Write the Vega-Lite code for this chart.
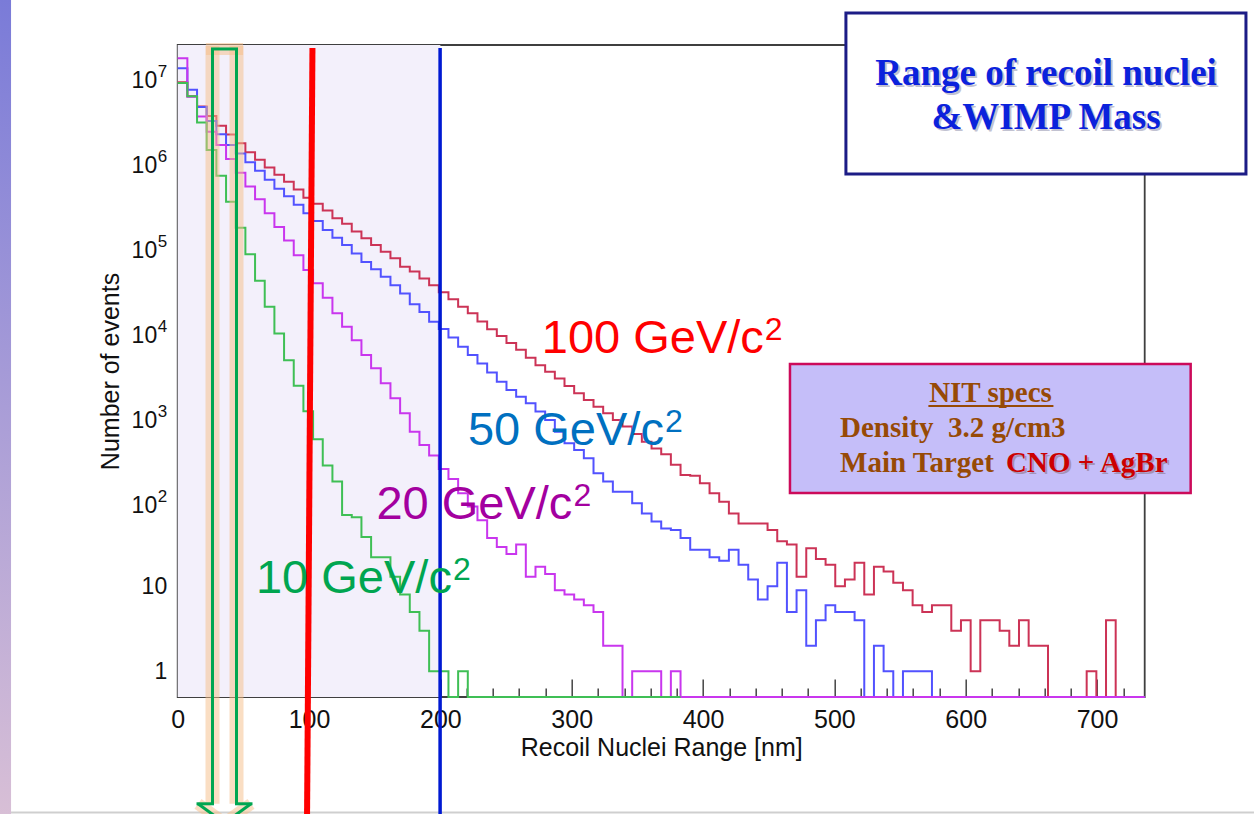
{
  "$schema": "https://vega.github.io/schema/vega-lite/v6.json",
  "width": 967,
  "height": 652,
  "autosize": {"type": "none"},
  "padding": {"left": 177.7, "top": 45, "right": 109.3, "bottom": 117},
  "background": "#ffffff",
  "config": {
    "view": {"stroke": "#3f3f3f", "strokeWidth": 1.8},
    "font": "Liberation Sans",
    "axis": {"grid": false, "domain": false, "tickColor": "#444444", "tickWidth": 1.5, "labelColor": "#111111", "titleColor": "#111111", "titleFontWeight": "normal", "labelFont": "Liberation Sans", "titleFont": "Liberation Sans", "labelFlush": false, "labelOverlap": false}
  },
  "datasets": {
    "h100": [
      {"nm": 0, "n": 8600000}, {"nm": 7.36, "n": 5900000}, {"nm": 14.73, "n": 4450000}, {"nm": 22.09, "n": 3450000}, {"nm": 29.45, "n": 2650000},
      {"nm": 36.82, "n": 2080000}, {"nm": 44.18, "n": 1650000}, {"nm": 51.54, "n": 1290000}, {"nm": 58.9, "n": 1050000}, {"nm": 66.27, "n": 850000},
      {"nm": 73.63, "n": 700000}, {"nm": 80.99, "n": 580000}, {"nm": 88.36, "n": 470000}, {"nm": 95.72, "n": 375000}, {"nm": 103.08, "n": 320000},
      {"nm": 110.45, "n": 265000}, {"nm": 117.81, "n": 215000}, {"nm": 125.17, "n": 185000}, {"nm": 132.53, "n": 150000}, {"nm": 139.9, "n": 125000},
      {"nm": 147.26, "n": 104000}, {"nm": 154.62, "n": 87000}, {"nm": 161.99, "n": 73000}, {"nm": 169.35, "n": 58000}, {"nm": 176.71, "n": 51000},
      {"nm": 184.08, "n": 42000}, {"nm": 191.44, "n": 35000}, {"nm": 198.8, "n": 29000}, {"nm": 206.16, "n": 24000}, {"nm": 213.53, "n": 19600},
      {"nm": 220.89, "n": 16400}, {"nm": 228.25, "n": 13100}, {"nm": 235.62, "n": 10600}, {"nm": 242.98, "n": 8850}, {"nm": 250.34, "n": 7300},
      {"nm": 257.71, "n": 6100}, {"nm": 265.07, "n": 4900}, {"nm": 272.43, "n": 4000}, {"nm": 279.79, "n": 3370}, {"nm": 287.16, "n": 2800},
      {"nm": 294.52, "n": 2280}, {"nm": 301.88, "n": 1870}, {"nm": 309.25, "n": 1560}, {"nm": 316.61, "n": 1300}, {"nm": 323.97, "n": 1090},
      {"nm": 331.34, "n": 910}, {"nm": 338.7, "n": 760}, {"nm": 346.06, "n": 620}, {"nm": 353.42, "n": 505}, {"nm": 360.79, "n": 420},
      {"nm": 368.15, "n": 360}, {"nm": 375.51, "n": 270}, {"nm": 382.88, "n": 205}, {"nm": 390.24, "n": 200}, {"nm": 397.6, "n": 163},
      {"nm": 404.97, "n": 125}, {"nm": 412.33, "n": 99}, {"nm": 419.69, "n": 72}, {"nm": 427.05, "n": 55}, {"nm": 434.42, "n": 55},
      {"nm": 441.78, "n": 55}, {"nm": 449.14, "n": 46}, {"nm": 456.51, "n": 34}, {"nm": 463.87, "n": 31}, {"nm": 471.23, "n": 13},
      {"nm": 478.6, "n": 28}, {"nm": 485.96, "n": 21}, {"nm": 493.32, "n": 18}, {"nm": 500.68, "n": 10}, {"nm": 508.05, "n": 12},
      {"nm": 515.41, "n": 19}, {"nm": 522.77, "n": 8}, {"nm": 530.14, "n": 17}, {"nm": 537.5, "n": 15}, {"nm": 544.86, "n": 11},
      {"nm": 552.23, "n": 9}, {"nm": 559.59, "n": 6}, {"nm": 566.95, "n": 5}, {"nm": 574.31, "n": 6}, {"nm": 581.68, "n": 6},
      {"nm": 589.04, "n": 3}, {"nm": 596.4, "n": 4}, {"nm": 603.77, "n": 1}, {"nm": 611.13, "n": 4}, {"nm": 618.49, "n": 4},
      {"nm": 625.86, "n": 3}, {"nm": 633.22, "n": 2}, {"nm": 640.58, "n": 4}, {"nm": 647.94, "n": 2}, {"nm": 655.31, "n": 2},
      {"nm": 662.67, "n": null}, {"nm": 670.03, "n": null}, {"nm": 677.4, "n": null}, {"nm": 684.76, "n": null}, {"nm": 692.12, "n": 1},
      {"nm": 699.49, "n": null}, {"nm": 706.85, "n": 4}, {"nm": 714.21, "n": null}, {"nm": 721.57, "n": null}, {"nm": 728.94, "n": null},
      {"nm": 736.3, "n": null}
    ],
    "h50": [
      {"nm": 0, "n": 12600000}, {"nm": 7.36, "n": 7000000}, {"nm": 14.73, "n": 4400000}, {"nm": 22.09, "n": 3000000}, {"nm": 29.45, "n": 2100000},
      {"nm": 36.82, "n": 1570000}, {"nm": 44.18, "n": 1250000}, {"nm": 51.54, "n": 980000}, {"nm": 58.9, "n": 780000}, {"nm": 66.27, "n": 610000},
      {"nm": 73.63, "n": 480000}, {"nm": 80.99, "n": 390000}, {"nm": 88.36, "n": 310000}, {"nm": 95.72, "n": 247000}, {"nm": 103.08, "n": 200000},
      {"nm": 110.45, "n": 157000}, {"nm": 117.81, "n": 127000}, {"nm": 125.17, "n": 104000}, {"nm": 132.53, "n": 83000}, {"nm": 139.9, "n": 66000},
      {"nm": 147.26, "n": 54000}, {"nm": 154.62, "n": 44000}, {"nm": 161.99, "n": 35000}, {"nm": 169.35, "n": 28000}, {"nm": 176.71, "n": 21000},
      {"nm": 184.08, "n": 17000}, {"nm": 191.44, "n": 13000}, {"nm": 198.8, "n": 10700}, {"nm": 206.16, "n": 8500}, {"nm": 213.53, "n": 6600},
      {"nm": 220.89, "n": 5300}, {"nm": 228.25, "n": 4200}, {"nm": 235.62, "n": 3300}, {"nm": 242.98, "n": 2570}, {"nm": 250.34, "n": 2050},
      {"nm": 257.71, "n": 1710}, {"nm": 265.07, "n": 1430}, {"nm": 272.43, "n": 1140}, {"nm": 279.79, "n": 910}, {"nm": 287.16, "n": 662},
      {"nm": 294.52, "n": 483}, {"nm": 301.88, "n": 403}, {"nm": 309.25, "n": 322}, {"nm": 316.61, "n": 214}, {"nm": 323.97, "n": 171},
      {"nm": 331.34, "n": 130}, {"nm": 338.7, "n": 130}, {"nm": 346.06, "n": 95}, {"nm": 353.42, "n": 72}, {"nm": 360.79, "n": 58},
      {"nm": 368.15, "n": 48}, {"nm": 375.51, "n": 46}, {"nm": 382.88, "n": 37}, {"nm": 390.24, "n": 27}, {"nm": 397.6, "n": 27},
      {"nm": 404.97, "n": 22}, {"nm": 412.33, "n": 20}, {"nm": 419.69, "n": 27}, {"nm": 427.05, "n": 18}, {"nm": 434.42, "n": 12},
      {"nm": 441.78, "n": 7}, {"nm": 449.14, "n": 10}, {"nm": 456.51, "n": 19}, {"nm": 463.87, "n": 5}, {"nm": 471.23, "n": 9},
      {"nm": 478.6, "n": 2}, {"nm": 485.96, "n": 4}, {"nm": 493.32, "n": 6}, {"nm": 500.68, "n": 5}, {"nm": 508.05, "n": 5},
      {"nm": 515.41, "n": 4}, {"nm": 522.77, "n": null}, {"nm": 530.14, "n": 2}, {"nm": 537.5, "n": 1}, {"nm": 544.86, "n": null},
      {"nm": 552.23, "n": 1}, {"nm": 559.59, "n": 1}, {"nm": 566.95, "n": 1}, {"nm": 574.31, "n": null}, {"nm": 581.68, "n": null},
      {"nm": 589.04, "n": null}, {"nm": 596.4, "n": null}, {"nm": 603.77, "n": null}, {"nm": 611.13, "n": null}, {"nm": 618.49, "n": null},
      {"nm": 625.86, "n": null}, {"nm": 633.22, "n": null}, {"nm": 640.58, "n": null}, {"nm": 647.94, "n": null}, {"nm": 655.31, "n": null},
      {"nm": 662.67, "n": null}, {"nm": 670.03, "n": null}, {"nm": 677.4, "n": null}, {"nm": 684.76, "n": null}, {"nm": 692.12, "n": null},
      {"nm": 699.49, "n": null}, {"nm": 706.85, "n": null}, {"nm": 714.21, "n": null}, {"nm": 721.57, "n": null}, {"nm": 728.94, "n": null},
      {"nm": 736.3, "n": null}
    ],
    "h20": [
      {"nm": 0, "n": 16500000}, {"nm": 7.36, "n": 5800000}, {"nm": 14.73, "n": 3400000}, {"nm": 22.09, "n": 2250000}, {"nm": 29.45, "n": 1570000},
      {"nm": 36.82, "n": 1070000}, {"nm": 44.18, "n": 740000}, {"nm": 51.54, "n": 510000}, {"nm": 58.9, "n": 360000}, {"nm": 66.27, "n": 247000},
      {"nm": 73.63, "n": 170000}, {"nm": 80.99, "n": 118000}, {"nm": 88.36, "n": 79000}, {"nm": 95.72, "n": 53000}, {"nm": 103.08, "n": 37000},
      {"nm": 110.45, "n": 25000}, {"nm": 117.81, "n": 16400}, {"nm": 125.17, "n": 11400}, {"nm": 132.53, "n": 7900}, {"nm": 139.9, "n": 5300},
      {"nm": 147.26, "n": 3700}, {"nm": 154.62, "n": 2460}, {"nm": 161.99, "n": 1640}, {"nm": 169.35, "n": 1090}, {"nm": 176.71, "n": 662},
      {"nm": 184.08, "n": 461}, {"nm": 191.44, "n": 348}, {"nm": 198.8, "n": 240}, {"nm": 206.16, "n": 183}, {"nm": 213.53, "n": 125},
      {"nm": 220.89, "n": 87}, {"nm": 228.25, "n": 60}, {"nm": 235.62, "n": 37}, {"nm": 242.98, "n": 29}, {"nm": 250.34, "n": 24},
      {"nm": 257.71, "n": 31}, {"nm": 265.07, "n": 13}, {"nm": 272.43, "n": 17}, {"nm": 279.79, "n": 14}, {"nm": 287.16, "n": 9},
      {"nm": 294.52, "n": 8}, {"nm": 301.88, "n": 7}, {"nm": 309.25, "n": 6}, {"nm": 316.61, "n": 5}, {"nm": 323.97, "n": 2},
      {"nm": 331.34, "n": 2}, {"nm": 338.7, "n": null}, {"nm": 346.06, "n": 1}, {"nm": 353.42, "n": 1}, {"nm": 360.79, "n": 1},
      {"nm": 368.15, "n": null}, {"nm": 375.51, "n": 1}, {"nm": 382.88, "n": null}, {"nm": 390.24, "n": null}, {"nm": 397.6, "n": null},
      {"nm": 404.97, "n": null}, {"nm": 412.33, "n": null}, {"nm": 419.69, "n": null}, {"nm": 427.05, "n": null}, {"nm": 434.42, "n": null},
      {"nm": 441.78, "n": null}, {"nm": 449.14, "n": null}, {"nm": 456.51, "n": null}, {"nm": 463.87, "n": null}, {"nm": 471.23, "n": null},
      {"nm": 478.6, "n": null}, {"nm": 485.96, "n": null}, {"nm": 493.32, "n": null}, {"nm": 500.68, "n": null}, {"nm": 508.05, "n": null},
      {"nm": 515.41, "n": null}, {"nm": 522.77, "n": null}, {"nm": 530.14, "n": null}, {"nm": 537.5, "n": null}, {"nm": 544.86, "n": null},
      {"nm": 552.23, "n": null}, {"nm": 559.59, "n": null}, {"nm": 566.95, "n": null}, {"nm": 574.31, "n": null}, {"nm": 581.68, "n": null},
      {"nm": 589.04, "n": null}, {"nm": 596.4, "n": null}, {"nm": 603.77, "n": null}, {"nm": 611.13, "n": null}, {"nm": 618.49, "n": null},
      {"nm": 625.86, "n": null}, {"nm": 633.22, "n": null}, {"nm": 640.58, "n": null}, {"nm": 647.94, "n": null}, {"nm": 655.31, "n": null},
      {"nm": 662.67, "n": null}, {"nm": 670.03, "n": null}, {"nm": 677.4, "n": null}, {"nm": 684.76, "n": null}, {"nm": 692.12, "n": null},
      {"nm": 699.49, "n": null}, {"nm": 706.85, "n": null}, {"nm": 714.21, "n": null}, {"nm": 721.57, "n": null}, {"nm": 728.94, "n": null},
      {"nm": 736.3, "n": null}
    ],
    "h10": [
      {"nm": 0, "n": 8400000}, {"nm": 7.36, "n": 5900000}, {"nm": 14.73, "n": 2880000}, {"nm": 22.09, "n": 1370000}, {"nm": 29.45, "n": 680000},
      {"nm": 36.82, "n": 338000}, {"nm": 44.18, "n": 167000}, {"nm": 51.54, "n": 81000}, {"nm": 58.9, "n": 39700}, {"nm": 66.27, "n": 19500},
      {"nm": 73.63, "n": 9500}, {"nm": 80.99, "n": 4600}, {"nm": 88.36, "n": 2300}, {"nm": 95.72, "n": 1150}, {"nm": 103.08, "n": 538},
      {"nm": 110.45, "n": 265}, {"nm": 117.81, "n": 171}, {"nm": 125.17, "n": 69}, {"nm": 132.53, "n": 65}, {"nm": 139.9, "n": 38},
      {"nm": 147.26, "n": 22}, {"nm": 154.62, "n": 22}, {"nm": 161.99, "n": 13}, {"nm": 169.35, "n": 8}, {"nm": 176.71, "n": 5},
      {"nm": 184.08, "n": 3}, {"nm": 191.44, "n": 1}, {"nm": 198.8, "n": 1}, {"nm": 206.16, "n": null}, {"nm": 213.53, "n": 1},
      {"nm": 220.89, "n": null}, {"nm": 228.25, "n": null}, {"nm": 235.62, "n": null}, {"nm": 242.98, "n": null}, {"nm": 250.34, "n": null},
      {"nm": 257.71, "n": null}, {"nm": 265.07, "n": null}, {"nm": 272.43, "n": null}, {"nm": 279.79, "n": null}, {"nm": 287.16, "n": null},
      {"nm": 294.52, "n": null}, {"nm": 301.88, "n": null}, {"nm": 309.25, "n": null}, {"nm": 316.61, "n": null}, {"nm": 323.97, "n": null},
      {"nm": 331.34, "n": null}, {"nm": 338.7, "n": null}, {"nm": 346.06, "n": null}, {"nm": 353.42, "n": null}, {"nm": 360.79, "n": null},
      {"nm": 368.15, "n": null}, {"nm": 375.51, "n": null}, {"nm": 382.88, "n": null}
    ]
  },
  "layer": [
    {
      "data": {"values": [{}]},
      "mark": {"type": "rect", "fill": {"gradient": "linear", "x1": 0, "y1": 0, "x2": 0, "y2": 1, "stops": [{"offset": 0, "color": "#7a7bd8"}, {"offset": 1, "color": "#d8bfd6"}]}},
      "encoding": {
        "x": {"datum": -135.3, "type": "quantitative", "scale": {"domain": [0, 736.3], "nice": false, "zero": false}, "axis": null},
        "x2": {"datum": -126.9},
        "y": {"datum": 81000000, "type": "quantitative", "scale": {"type": "log", "domain": [0.498, 23600000], "nice": false}, "axis": null},
        "y2": {"datum": 0.0205}
      }
    },
    {
      "data": {"values": [{}]},
      "mark": {"type": "rule", "stroke": "#cfcfcf", "strokeWidth": 2},
      "encoding": {
        "x": {"datum": -126.9, "scale": {"domain": [0, 736.3], "nice": false, "zero": false}, "axis": null},
        "x2": {"datum": 819.5},
        "y": {"datum": 0.02177, "scale": {"type": "log", "domain": [0.498, 23600000], "nice": false}, "axis": null}
      }
    },
    {
      "data": {"values": [{}]},
      "mark": {"type": "rect", "fill": "#f3f0fb"},
      "encoding": {
        "x": {
          "datum": 0, "type": "quantitative",
          "scale": {"domain": [0, 736.3], "nice": false, "zero": false},
          "axis": {"orient": "bottom", "values": [20, 40, 60, 80, 120, 140, 160, 180, 220, 240, 260, 280, 320, 340, 360, 380, 420, 440, 460, 480, 520, 540, 560, 580, 620, 640, 660, 680, 720], "tickSize": -9, "labels": false, "title": null}
        },
        "x2": {"datum": 200},
        "y": {
          "datum": 0.498, "type": "quantitative",
          "scale": {"type": "log", "domain": [0.498, 23600000], "nice": false},
          "axis": {"orient": "left", "values": [0.6, 0.7, 0.8, 0.9, 2, 3, 4, 5, 6, 7, 8, 9, 20, 30, 40, 50, 60, 70, 80, 90, 200, 300, 400, 500, 600, 700, 800, 900, 2000, 3000, 4000, 5000, 6000, 7000, 8000, 9000, 20000, 30000, 40000, 50000, 60000, 70000, 80000, 90000, 200000, 300000, 400000, 500000, 600000, 700000, 800000, 900000, 2000000, 3000000, 4000000, 5000000, 6000000, 7000000, 8000000, 9000000, 20000000], "tickSize": -14, "labels": false, "title": null}
        },
        "y2": {"datum": 23600000}
      }
    },
    {
      "data": {"name": "h100"},
      "mark": {"type": "line", "interpolate": "step-after", "color": "#cc3356", "strokeWidth": 2, "invalid": "show"},
      "encoding": {
        "x": {
          "field": "nm", "type": "quantitative",
          "scale": {"domain": [0, 736.3], "nice": false, "zero": false},
          "axis": {
            "orient": "bottom",
            "values": [0, 100, 200, 300, 400, 500, 600, 700],
            "tickSize": -18,
            "labelPadding": 28,
            "labelFontSize": 25,
            "title": "Recoil Nuclei Range [nm]",
            "titleFontSize": 25,
            "titlePadding": 3
          }
        },
        "y": {
          "field": "n", "type": "quantitative",
          "scale": {"type": "log", "domain": [0.498, 23600000], "nice": false},
          "axis": {
            "orient": "left",
            "values": [100, 1000, 10000, 100000, 1000000, 10000000],
            "labelExpr": "'10'",
            "tickSize": -28,
            "labelPadding": 49,
            "labelOffset": 4,
            "labelFontSize": 23,
            "title": "Number of events",
            "titleFontSize": 25,
            "titlePadding": 8
          }
        }
      }
    },
    {
      "data": {"name": "h50"},
      "mark": {"type": "line", "interpolate": "step-after", "color": "#5252ff", "strokeWidth": 2, "invalid": "show"},
      "encoding": {
        "x": {"field": "nm", "type": "quantitative", "scale": {"domain": [0, 736.3], "nice": false, "zero": false}, "axis": null},
        "y": {
          "field": "n", "type": "quantitative",
          "scale": {"type": "log", "domain": [0.498, 23600000], "nice": false},
          "axis": {"orient": "left", "values": [1, 10], "labelExpr": "datum.value === 1 ? '1' : '10'", "tickSize": -28, "labelPadding": 39, "labelFontSize": 23, "title": null}
        }
      }
    },
    {
      "data": {"name": "h20"},
      "mark": {"type": "line", "interpolate": "step-after", "color": "#c936ee", "strokeWidth": 2, "invalid": "show"},
      "encoding": {
        "x": {"field": "nm", "type": "quantitative", "scale": {"domain": [0, 736.3], "nice": false, "zero": false}, "axis": null},
        "y": {
          "field": "n", "type": "quantitative",
          "scale": {"type": "log", "domain": [0.498, 23600000], "nice": false},
          "axis": {"orient": "left", "values": [100, 1000, 10000, 100000, 1000000, 10000000], "labelExpr": "datum.value === 100 ? '2' : datum.value === 1000 ? '3' : datum.value === 10000 ? '4' : datum.value === 100000 ? '5' : datum.value === 1000000 ? '6' : '7'", "ticks": false, "labelPadding": 11, "labelOffset": -5, "labelFontSize": 17, "title": null}
        }
      }
    },
    {
      "data": {"name": "h10"},
      "mark": {"type": "line", "interpolate": "step-after", "color": "#3fbf55", "strokeWidth": 2, "invalid": "show"},
      "encoding": {
        "x": {"field": "nm", "type": "quantitative", "scale": {"domain": [0, 736.3], "nice": false, "zero": false}, "axis": null},
        "y": {"field": "n", "type": "quantitative", "scale": {"type": "log", "domain": [0.498, 23600000], "nice": false}, "axis": null}
      }
    },
    {
      "data": {"values": [{}]},
      "mark": {"type": "rule", "stroke": "#f5bd88", "strokeWidth": 14, "opacity": 0.5},
      "encoding": {
        "x": {"datum": 26.5, "scale": {"domain": [0, 736.3], "nice": false, "zero": false}, "axis": null},
        "y": {"datum": 23000000, "scale": {"type": "log", "domain": [0.498, 23600000], "nice": false}, "axis": null},
        "y2": {"datum": 0.02754}
      }
    },
    {
      "data": {"values": [{}]},
      "mark": {"type": "rule", "stroke": "#f5bd88", "strokeWidth": 14, "opacity": 0.5},
      "encoding": {
        "x": {"datum": 44.77, "scale": {"domain": [0, 736.3], "nice": false, "zero": false}, "axis": null},
        "y": {"datum": 23000000, "scale": {"type": "log", "domain": [0.498, 23600000], "nice": false}, "axis": null},
        "y2": {"datum": 0.02754}
      }
    },
    {
      "data": {"values": [{}]},
      "mark": {"type": "rule", "stroke": "#f5bd88", "strokeWidth": 12, "opacity": 0.5},
      "encoding": {
        "x": {"datum": 21.5, "scale": {"domain": [0, 736.3], "nice": false, "zero": false}, "axis": null},
        "x2": {"datum": 49.77},
        "y": {"datum": 21200000, "scale": {"type": "log", "domain": [0.498, 23600000], "nice": false}, "axis": null}
      }
    },
    {
      "data": {"values": [{}]},
      "mark": {"type": "rule", "stroke": "#f5bd88", "strokeWidth": 12, "opacity": 0.5},
      "encoding": {
        "x": {"datum": 15.46, "scale": {"domain": [0, 736.3], "nice": false, "zero": false}, "axis": null},
        "x2": {"datum": 35.64},
        "y": {"datum": 0.02754, "scale": {"type": "log", "domain": [0.498, 23600000], "nice": false}, "axis": null},
        "y2": {"datum": 0.01637}
      }
    },
    {
      "data": {"values": [{}]},
      "mark": {"type": "rule", "stroke": "#f5bd88", "strokeWidth": 12, "opacity": 0.5},
      "encoding": {
        "x": {"datum": 55.81, "scale": {"domain": [0, 736.3], "nice": false, "zero": false}, "axis": null},
        "x2": {"datum": 35.64},
        "y": {"datum": 0.02754, "scale": {"type": "log", "domain": [0.498, 23600000], "nice": false}, "axis": null},
        "y2": {"datum": 0.01637}
      }
    },
    {
      "data": {"values": [{}]},
      "mark": {"type": "rule", "stroke": "#00a651", "strokeWidth": 3},
      "encoding": {
        "x": {"datum": 26.5, "scale": {"domain": [0, 736.3], "nice": false, "zero": false}, "axis": null},
        "y": {"datum": 21200000, "scale": {"type": "log", "domain": [0.498, 23600000], "nice": false}, "axis": null},
        "y2": {"datum": 0.02754}
      }
    },
    {
      "data": {"values": [{}]},
      "mark": {"type": "rule", "stroke": "#00a651", "strokeWidth": 3},
      "encoding": {
        "x": {"datum": 44.77, "scale": {"domain": [0, 736.3], "nice": false, "zero": false}, "axis": null},
        "y": {"datum": 21200000, "scale": {"type": "log", "domain": [0.498, 23600000], "nice": false}, "axis": null},
        "y2": {"datum": 0.02754}
      }
    },
    {
      "data": {"values": [{}]},
      "mark": {"type": "rule", "stroke": "#00a651", "strokeWidth": 3, "strokeCap": "square"},
      "encoding": {
        "x": {"datum": 26.5, "scale": {"domain": [0, 736.3], "nice": false, "zero": false}, "axis": null},
        "x2": {"datum": 44.77},
        "y": {"datum": 21200000, "scale": {"type": "log", "domain": [0.498, 23600000], "nice": false}, "axis": null}
      }
    },
    {
      "data": {"values": [{}]},
      "mark": {"type": "rule", "stroke": "#00a651", "strokeWidth": 3, "strokeCap": "square"},
      "encoding": {
        "x": {"datum": 15.46, "scale": {"domain": [0, 736.3], "nice": false, "zero": false}, "axis": null},
        "x2": {"datum": 26.5},
        "y": {"datum": 0.02754, "scale": {"type": "log", "domain": [0.498, 23600000], "nice": false}, "axis": null}
      }
    },
    {
      "data": {"values": [{}]},
      "mark": {"type": "rule", "stroke": "#00a651", "strokeWidth": 3, "strokeCap": "square"},
      "encoding": {
        "x": {"datum": 44.77, "scale": {"domain": [0, 736.3], "nice": false, "zero": false}, "axis": null},
        "x2": {"datum": 55.81},
        "y": {"datum": 0.02754, "scale": {"type": "log", "domain": [0.498, 23600000], "nice": false}, "axis": null}
      }
    },
    {
      "data": {"values": [{}]},
      "mark": {"type": "rule", "stroke": "#00a651", "strokeWidth": 3},
      "encoding": {
        "x": {"datum": 15.46, "scale": {"domain": [0, 736.3], "nice": false, "zero": false}, "axis": null},
        "x2": {"datum": 35.64},
        "y": {"datum": 0.02754, "scale": {"type": "log", "domain": [0.498, 23600000], "nice": false}, "axis": null},
        "y2": {"datum": 0.01637}
      }
    },
    {
      "data": {"values": [{}]},
      "mark": {"type": "rule", "stroke": "#00a651", "strokeWidth": 3},
      "encoding": {
        "x": {"datum": 55.81, "scale": {"domain": [0, 736.3], "nice": false, "zero": false}, "axis": null},
        "x2": {"datum": 35.64},
        "y": {"datum": 0.02754, "scale": {"type": "log", "domain": [0.498, 23600000], "nice": false}, "axis": null},
        "y2": {"datum": 0.01637}
      }
    },
    {
      "data": {"values": [{}]},
      "mark": {"type": "rule", "stroke": "#ff0000", "strokeWidth": 6},
      "encoding": {
        "x": {"datum": 102.6, "scale": {"domain": [0, 736.3], "nice": false, "zero": false}, "axis": null},
        "x2": {"datum": 98.5},
        "y": {"datum": 21800000, "scale": {"type": "log", "domain": [0.498, 23600000], "nice": false}, "axis": null},
        "y2": {"datum": 0.0205}
      }
    },
    {
      "data": {"values": [{}]},
      "mark": {"type": "rule", "stroke": "#0019d2", "strokeWidth": 3.5},
      "encoding": {
        "x": {"datum": 199.8, "scale": {"domain": [0, 736.3], "nice": false, "zero": false}, "axis": null},
        "y": {"datum": 21800000, "scale": {"type": "log", "domain": [0.498, 23600000], "nice": false}, "axis": null},
        "y2": {"datum": 0.0205}
      }
    },
    {
      "data": {"values": [{}]},
      "mark": {"type": "text", "text": "100 GeV/c", "fontSize": 47, "color": "#ff0000", "align": "left", "baseline": "alphabetic"},
      "encoding": {
        "x": {"datum": 277.2, "scale": {"domain": [0, 736.3], "nice": false, "zero": false}, "axis": null},
        "y": {"datum": 5546, "scale": {"type": "log", "domain": [0.498, 23600000], "nice": false}, "axis": null}
      }
    },
    {
      "data": {"values": [{}]},
      "mark": {"type": "text", "text": "2", "fontSize": 32, "color": "#ff0000", "align": "left", "baseline": "alphabetic", "dx": 223, "dy": -13},
      "encoding": {
        "x": {"datum": 277.2, "scale": {"domain": [0, 736.3], "nice": false, "zero": false}, "axis": null},
        "y": {"datum": 5546, "scale": {"type": "log", "domain": [0.498, 23600000], "nice": false}, "axis": null}
      }
    },
    {
      "data": {"values": [{}]},
      "mark": {"type": "text", "text": "50 GeV/c", "fontSize": 47, "color": "#0070c0", "align": "left", "baseline": "alphabetic"},
      "encoding": {
        "x": {"datum": 221, "scale": {"domain": [0, 736.3], "nice": false, "zero": false}, "axis": null},
        "y": {"datum": 461, "scale": {"type": "log", "domain": [0.498, 23600000], "nice": false}, "axis": null}
      }
    },
    {
      "data": {"values": [{}]},
      "mark": {"type": "text", "text": "2", "fontSize": 32, "color": "#0070c0", "align": "left", "baseline": "alphabetic", "dx": 197, "dy": -13},
      "encoding": {
        "x": {"datum": 221, "scale": {"domain": [0, 736.3], "nice": false, "zero": false}, "axis": null},
        "y": {"datum": 461, "scale": {"type": "log", "domain": [0.498, 23600000], "nice": false}, "axis": null}
      }
    },
    {
      "data": {"values": [{}]},
      "mark": {"type": "text", "text": "20 GeV/c", "fontSize": 47, "color": "#a3009f", "align": "left", "baseline": "alphabetic"},
      "encoding": {
        "x": {"datum": 151.3, "scale": {"domain": [0, 736.3], "nice": false, "zero": false}, "axis": null},
        "y": {"datum": 61.6, "scale": {"type": "log", "domain": [0.498, 23600000], "nice": false}, "axis": null}
      }
    },
    {
      "data": {"values": [{}]},
      "mark": {"type": "text", "text": "2", "fontSize": 32, "color": "#a3009f", "align": "left", "baseline": "alphabetic", "dx": 197, "dy": -13},
      "encoding": {
        "x": {"datum": 151.3, "scale": {"domain": [0, 736.3], "nice": false, "zero": false}, "axis": null},
        "y": {"datum": 61.6, "scale": {"type": "log", "domain": [0.498, 23600000], "nice": false}, "axis": null}
      }
    },
    {
      "data": {"values": [{}]},
      "mark": {"type": "text", "text": "10 GeV/c", "fontSize": 47, "color": "#00a550", "align": "left", "baseline": "alphabetic"},
      "encoding": {
        "x": {"datum": 59.6, "scale": {"domain": [0, 736.3], "nice": false, "zero": false}, "axis": null},
        "y": {"datum": 8.28, "scale": {"type": "log", "domain": [0.498, 23600000], "nice": false}, "axis": null}
      }
    },
    {
      "data": {"values": [{}]},
      "mark": {"type": "text", "text": "2", "fontSize": 32, "color": "#00a550", "align": "left", "baseline": "alphabetic", "dx": 197, "dy": -13},
      "encoding": {
        "x": {"datum": 59.6, "scale": {"domain": [0, 736.3], "nice": false, "zero": false}, "axis": null},
        "y": {"datum": 8.28, "scale": {"type": "log", "domain": [0.498, 23600000], "nice": false}, "axis": null}
      }
    },
    {
      "data": {"values": [{}]},
      "mark": {"type": "rect", "fill": "#ffffff", "stroke": "#1c1c86", "strokeWidth": 3},
      "encoding": {
        "x": {"datum": 508.8, "scale": {"domain": [0, 736.3], "nice": false, "zero": false}, "axis": null},
        "x2": {"datum": 813.4},
        "y": {"datum": 56200000, "scale": {"type": "log", "domain": [0.498, 23600000], "nice": false}, "axis": null},
        "y2": {"datum": 714000}
      }
    },
    {
      "data": {"values": [{}]},
      "mark": {"type": "text", "text": "Range of recoil nuclei", "font": "Liberation Serif", "fontWeight": "bold", "fontSize": 37, "color": "#9a9ab4", "opacity": 0.6, "align": "center", "baseline": "alphabetic", "dx": 2, "dy": 2},
      "encoding": {
        "x": {"datum": 661.2, "scale": {"domain": [0, 736.3], "nice": false, "zero": false}, "axis": null},
        "y": {"datum": 7980000, "scale": {"type": "log", "domain": [0.498, 23600000], "nice": false}, "axis": null}
      }
    },
    {
      "data": {"values": [{}]},
      "mark": {"type": "text", "text": "Range of recoil nuclei", "font": "Liberation Serif", "fontWeight": "bold", "fontSize": 37, "color": "#0b22dc", "align": "center", "baseline": "alphabetic"},
      "encoding": {
        "x": {"datum": 661.2, "scale": {"domain": [0, 736.3], "nice": false, "zero": false}, "axis": null},
        "y": {"datum": 7980000, "scale": {"type": "log", "domain": [0.498, 23600000], "nice": false}, "axis": null}
      }
    },
    {
      "data": {"values": [{}]},
      "mark": {"type": "text", "text": "&WIMP Mass", "font": "Liberation Serif", "fontWeight": "bold", "fontSize": 37, "color": "#9a9ab4", "opacity": 0.6, "align": "center", "baseline": "alphabetic", "dx": 2, "dy": 2},
      "encoding": {
        "x": {"datum": 661.2, "scale": {"domain": [0, 736.3], "nice": false, "zero": false}, "axis": null},
        "y": {"datum": 2430000, "scale": {"type": "log", "domain": [0.498, 23600000], "nice": false}, "axis": null}
      }
    },
    {
      "data": {"values": [{}]},
      "mark": {"type": "text", "text": "&WIMP Mass", "font": "Liberation Serif", "fontWeight": "bold", "fontSize": 37, "color": "#0b22dc", "align": "center", "baseline": "alphabetic"},
      "encoding": {
        "x": {"datum": 661.2, "scale": {"domain": [0, 736.3], "nice": false, "zero": false}, "axis": null},
        "y": {"datum": 2430000, "scale": {"type": "log", "domain": [0.498, 23600000], "nice": false}, "axis": null}
      }
    },
    {
      "data": {"values": [{}]},
      "mark": {"type": "rect", "fill": "#c5bef9", "stroke": "#cc0a5a", "strokeWidth": 2.5},
      "encoding": {
        "x": {"datum": 466.2, "scale": {"domain": [0, 736.3], "nice": false, "zero": false}, "axis": null},
        "x2": {"datum": 771.3},
        "y": {"datum": 4150, "scale": {"type": "log", "domain": [0.498, 23600000], "nice": false}, "axis": null},
        "y2": {"datum": 125.7}
      }
    },
    {
      "data": {"values": [{}]},
      "mark": {"type": "text", "text": "NIT specs", "font": "Liberation Serif", "fontWeight": "bold", "fontSize": 29, "color": "#974a06", "align": "center", "baseline": "alphabetic"},
      "encoding": {
        "x": {"datum": 618.9, "scale": {"domain": [0, 736.3], "nice": false, "zero": false}, "axis": null},
        "y": {"datum": 1493, "scale": {"type": "log", "domain": [0.498, 23600000], "nice": false}, "axis": null}
      }
    },
    {
      "data": {"values": [{}]},
      "mark": {"type": "rule", "stroke": "#974a06", "strokeWidth": 2},
      "encoding": {
        "x": {"datum": 571.6, "scale": {"domain": [0, 736.3], "nice": false, "zero": false}, "axis": null},
        "x2": {"datum": 666.8},
        "y": {"datum": 1328, "scale": {"type": "log", "domain": [0.498, 23600000], "nice": false}, "axis": null}
      }
    },
    {
      "data": {"values": [{}]},
      "mark": {"type": "text", "text": "Density\u00a0 3.2 g/cm3", "font": "Liberation Serif", "fontWeight": "bold", "fontSize": 29, "color": "#974a06", "align": "left", "baseline": "alphabetic"},
      "encoding": {
        "x": {"datum": 504.3, "scale": {"domain": [0, 736.3], "nice": false, "zero": false}, "axis": null},
        "y": {"datum": 578, "scale": {"type": "log", "domain": [0.498, 23600000], "nice": false}, "axis": null}
      }
    },
    {
      "data": {"values": [{}]},
      "mark": {"type": "text", "text": "Main Target", "font": "Liberation Serif", "fontWeight": "bold", "fontSize": 29, "color": "#974a06", "align": "left", "baseline": "alphabetic"},
      "encoding": {
        "x": {"datum": 504.3, "scale": {"domain": [0, 736.3], "nice": false, "zero": false}, "axis": null},
        "y": {"datum": 224, "scale": {"type": "log", "domain": [0.498, 23600000], "nice": false}, "axis": null}
      }
    },
    {
      "data": {"values": [{}]},
      "mark": {"type": "text", "text": "CNO + AgBr", "font": "Liberation Serif", "fontWeight": "bold", "fontSize": 29, "color": "#8a7080", "opacity": 0.55, "align": "left", "baseline": "alphabetic", "dx": 2, "dy": 2},
      "encoding": {
        "x": {"datum": 630.7, "scale": {"domain": [0, 736.3], "nice": false, "zero": false}, "axis": null},
        "y": {"datum": 224, "scale": {"type": "log", "domain": [0.498, 23600000], "nice": false}, "axis": null}
      }
    },
    {
      "data": {"values": [{}]},
      "mark": {"type": "text", "text": "CNO + AgBr", "font": "Liberation Serif", "fontWeight": "bold", "fontSize": 29, "color": "#cc0000", "align": "left", "baseline": "alphabetic"},
      "encoding": {
        "x": {"datum": 630.7, "scale": {"domain": [0, 736.3], "nice": false, "zero": false}, "axis": null},
        "y": {"datum": 224, "scale": {"type": "log", "domain": [0.498, 23600000], "nice": false}, "axis": null}
      }
    }
  ],
  "resolve": {"axis": {"x": "independent", "y": "independent"}}
}
